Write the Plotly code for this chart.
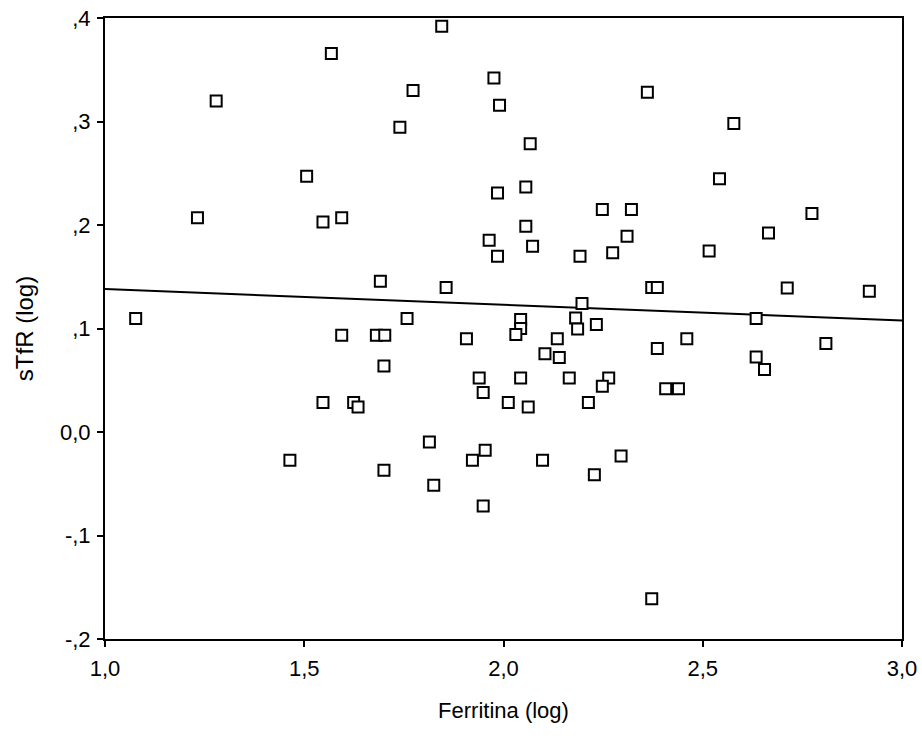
import numpy as np
import plotly.graph_objects as go

# Ferritina (log) vs sTfR (log)
ferritina_log = [
    1.077, 1.279, 1.568, 1.740, 1.506, 1.232, 1.547, 1.594, 1.845, 1.976,
    1.773, 1.990, 2.361, 2.067, 2.056, 1.985, 2.248, 2.321, 2.056, 2.578,
    2.542, 2.774, 2.665, 1.691, 1.594, 1.681, 1.702, 1.700, 1.547, 1.624,
    1.635, 1.964, 2.073, 1.985, 2.192, 2.274, 2.310, 1.856, 2.372, 2.386,
    2.197, 1.758, 2.043, 2.043, 2.031, 2.181, 2.186, 2.233, 1.907, 2.135,
    2.460, 2.386, 2.104, 2.140, 1.939, 2.043, 2.165, 2.264, 2.248, 1.949,
    2.407, 2.439, 2.012, 2.062, 2.213, 1.814, 2.516, 2.712, 2.918, 2.634,
    2.809, 2.634, 2.655, 1.464, 1.700, 1.825, 1.954, 1.922, 1.949, 2.098,
    2.228, 2.295, 2.372,
]
stfr_log = [
    0.1096, 0.3198, 0.3656, 0.2944, 0.2471, 0.2071, 0.2029, 0.2071, 0.3920, 0.3420,
    0.3300, 0.3157, 0.3282, 0.2786, 0.2367, 0.2309, 0.2149, 0.2149, 0.1987, 0.2980,
    0.2448, 0.2110, 0.1923, 0.1456, 0.0934, 0.0934, 0.0934, 0.0638, 0.0284, 0.0284,
    0.0242, 0.1852, 0.1794, 0.1698, 0.1698, 0.1733, 0.1891, 0.1395, 0.1395, 0.1395,
    0.1241, 0.1096, 0.1086, 0.0999, 0.0941, 0.1101, 0.0995, 0.1038, 0.0902, 0.0902,
    0.0902, 0.0806, 0.0757, 0.0719, 0.0522, 0.0522, 0.0522, 0.0522, 0.0442, 0.0381,
    0.0419, 0.0419, 0.0284, 0.0242, 0.0284, -0.0097, 0.1749, 0.1391, 0.1359, 0.1096,
    0.0854, 0.0725, 0.0603, -0.0273, -0.0370, -0.0515, -0.0177, -0.0273, -0.0715, -0.0273,
    -0.0412, -0.0232, -0.1610,
]

x_ticks = [1.0, 1.5, 2.0, 2.5, 3.0]
x_ticktext = ["1,0", "1,5", "2,0", "2,5", "3,0"]
y_ticks = [-0.2, -0.1, 0.0, 0.1, 0.2, 0.3, 0.4]
y_ticktext = ["-,2", "-,1", "0,0", ",1", ",2", ",3", ",4"]

# least-squares line across the full x range
slope, intercept = np.polyfit(ferritina_log, stfr_log, 1)
fit_x = np.array([1.0, 3.0])
fit_y = slope * fit_x + intercept

font_family = "Liberation Sans, Arial, sans-serif"

fig = go.Figure()
fig.add_trace(go.Scatter(
    x=fit_x, y=fit_y, mode="lines",
    line=dict(color="black", width=2),
    hoverinfo="skip", showlegend=False,
))
fig.add_trace(go.Scatter(
    x=ferritina_log, y=stfr_log, mode="markers",
    marker=dict(symbol="square", size=11, color="white",
                line=dict(color="black", width=2)),
    showlegend=False,
))

axis_common = dict(
    showgrid=False, zeroline=False, automargin=False,
    showline=True, linecolor="black", linewidth=2, mirror=True,
    ticks="outside", ticklen=6, tickwidth=1.5, tickcolor="black",
    tickfont=dict(family=font_family, size=22, color="black"),
)

fig.update_layout(
    width=922, height=751,
    margin=dict(l=105, r=20, t=18, b=112),
    paper_bgcolor="white", plot_bgcolor="white",
    font=dict(family=font_family, color="black"),
    xaxis=dict(
        range=[1.0, 3.0], tickvals=x_ticks, ticktext=x_ticktext,
        ticklabelstandoff=3,
        title=dict(text="Ferritina (log)", font=dict(family=font_family, size=22),
                   standoff=22),
        **axis_common,
    ),
    yaxis=dict(
        range=[-0.2, 0.4], tickvals=y_ticks, ticktext=y_ticktext,
        ticklabelstandoff=2,
        title=dict(text="sTfR (log)", font=dict(family=font_family, size=24),
                   standoff=20),
        **axis_common,
    ),
)

fig.write_html("out.html")
